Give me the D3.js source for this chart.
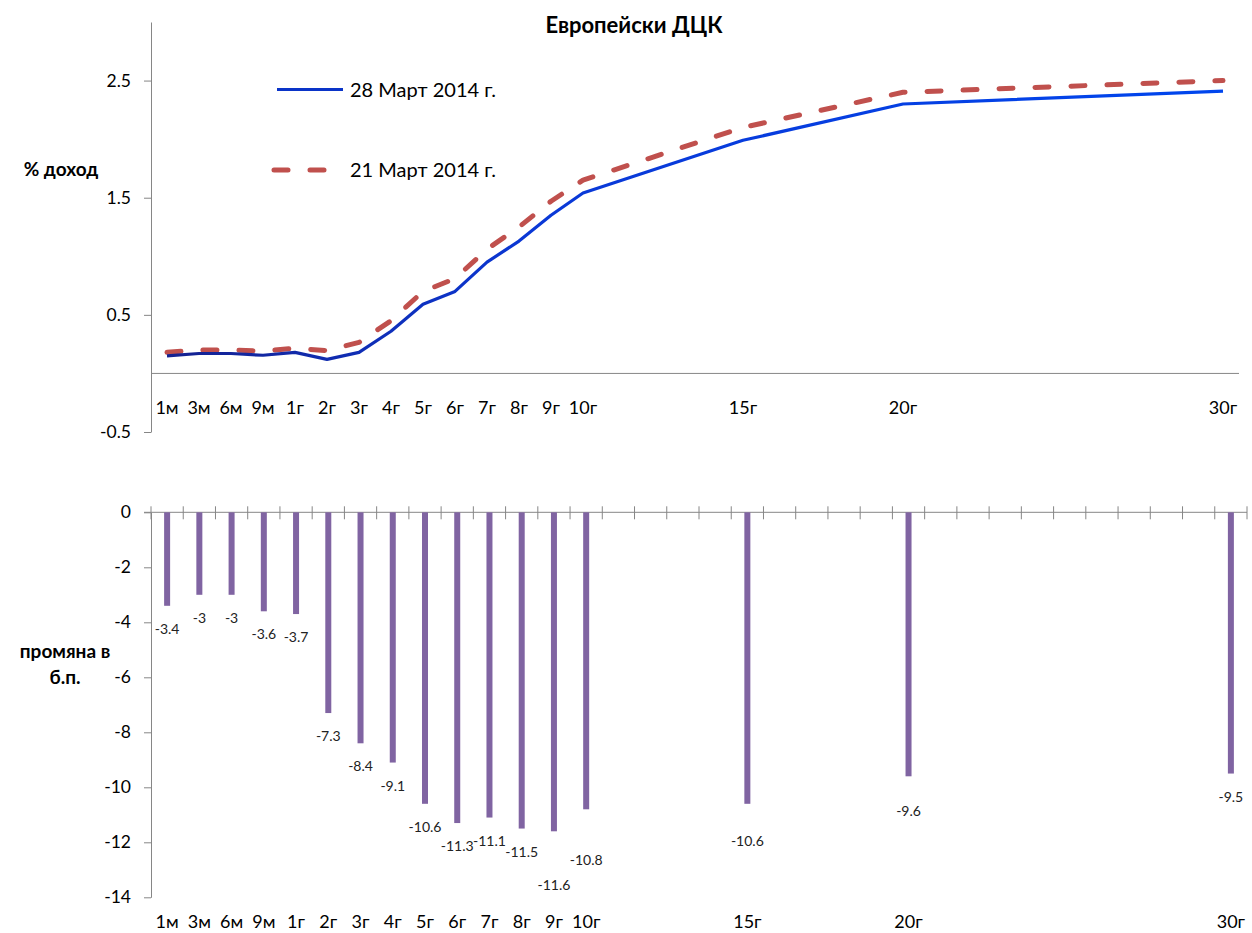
<!DOCTYPE html>
<html>
<head>
<meta charset="utf-8">
<script src="https://cdn.jsdelivr.net/npm/d3@7"></script>
<style>
  html, body { margin: 0; padding: 0; background: #fff; }
  svg { display: block; font-family: Lato, "Open Sans", sans-serif; }
</style>
</head>
<body>
<svg id="chart" width="1252" height="933"></svg>
<script>
// ---------- DATA ----------
const axisCategories = ["1м","3м","6м","9м","1г","2г","3г","4г","5г","6г","7г","8г","9г","10г",
  "11г","12г","13г","14г","15г","16г","17г","18г","19г","20г",
  "21г","22г","23г","24г","25г","26г","27г","28г","29г","30г"];
const tenors = ["1м","3м","6м","9м","1г","2г","3г","4г","5г","6г","7г","8г","9г","10г","15г","20г","30г"];
const yield28Mar = [0.15,0.17,0.17,0.155,0.18,0.12,0.18,0.36,0.59,0.70,0.95,1.13,1.35,1.54,1.99,2.30,2.41];
const yield21Mar = [0.18,0.20,0.20,0.19,0.215,0.195,0.265,0.45,0.70,0.81,1.06,1.25,1.47,1.65,2.10,2.40,2.50];
const changeBp   = [-3.4,-3,-3,-3.6,-3.7,-7.3,-8.4,-9.1,-10.6,-11.3,-11.1,-11.5,-11.6,-10.8,-10.6,-9.6,-9.5];
const topTicks = [-0.5, 0.5, 1.5, 2.5];
const bottomTicks = [0, -2, -4, -6, -8, -10, -12, -14];
const seriesNames = ["28 Март 2014 г.", "21 Март 2014 г."];
const title = "Европейски ДЦК";

// ---------- SETUP ----------
const svg = d3.select("#chart");
const axisColor = "#868686";
const blueColor = "#0a34c8";
const redColor = "#c0504d";
const barColor = "#8064a2";

const defs = svg.append("defs");
const grad = defs.append("linearGradient").attr("id", "blueGrad")
  .attr("gradientUnits", "userSpaceOnUse").attr("x1", 160).attr("x2", 1230).attr("y1", 0).attr("y2", 0);
grad.append("stop").attr("offset", "0").attr("stop-color", "#15218f");
grad.append("stop").attr("offset", "0.35").attr("stop-color", "#0a38d6");
grad.append("stop").attr("offset", "1").attr("stop-color", "#0046ee");

// ---------- TOP CHART ----------
const xT = d3.scaleBand().domain(axisCategories).range([151, 1239]);
const yT = d3.scaleLinear().domain([-0.5, 3.0]).range([432, 22]);

const topY = svg.append("g").attr("transform", "translate(151,0)")
  .call(d3.axisLeft(yT).tickValues(topTicks).tickSize(7).tickSizeOuter(0).tickPadding(13)
    .tickFormat(d3.format(".1f")));
topY.select(".domain").attr("stroke", axisColor);
topY.selectAll(".tick line").attr("stroke", axisColor);
topY.selectAll(".tick text").attr("font-size", 17.5).attr("fill", "#000")
  .attr("font-family", "Lato, sans-serif").text(d => d < 0 ? "-" + Math.abs(d).toFixed(1) : d.toFixed(1));

// zero line
svg.append("line").attr("x1", 151).attr("x2", xT.range()[1])
  .attr("y1", yT(0)).attr("y2", yT(0)).attr("stroke", axisColor).attr("stroke-width", 1);

// top x labels
svg.append("g").selectAll("text").data(tenors).join("text")
  .attr("x", d => xT(d) + xT.bandwidth() / 2)
  .attr("y", 414)
  .attr("text-anchor", "middle").attr("font-size", 18).attr("fill", "#000")
  .text(d => d);

const topData = tenors.map((t, i) => ({ t, a: yield28Mar[i], b: yield21Mar[i] }));
const lineA = d3.line().x(d => xT(d.t) + xT.bandwidth() / 2).y(d => yT(d.a));
const lineB = d3.line().x(d => xT(d.t) + xT.bandwidth() / 2).y(d => yT(d.b));

svg.append("path").datum(topData).attr("d", lineB)
  .attr("fill", "none").attr("stroke", redColor).attr("stroke-width", 5)
  .attr("stroke-dasharray", "14,22").attr("stroke-linecap", "round").attr("stroke-linejoin", "round");
svg.append("path").datum(topData).attr("d", lineA)
  .attr("fill", "none").attr("stroke", "url(#blueGrad)").attr("stroke-width", 3.2)
  .attr("stroke-linejoin", "round");

// legend
svg.append("line").attr("x1", 277).attr("x2", 343).attr("y1", 89.5).attr("y2", 89.5)
  .attr("stroke", blueColor).attr("stroke-width", 3.2);
svg.append("line").attr("x1", 274).attr("x2", 330).attr("y1", 170).attr("y2", 170)
  .attr("stroke", redColor).attr("stroke-width", 5).attr("stroke-dasharray", "14,22").attr("stroke-linecap", "round");
svg.append("text").attr("x", 350).attr("y", 96.5).attr("font-size", 20).attr("fill", "#000").text(seriesNames[0]);
svg.append("text").attr("x", 350).attr("y", 177).attr("font-size", 20).attr("fill", "#000").text(seriesNames[1]);

// title
svg.append("text").attr("x", 634).attr("y", 33).attr("text-anchor", "middle")
  .attr("font-size", 22).attr("font-weight", "bold").attr("fill", "#000").text(title);

// axis title top
svg.append("text").attr("x", 61).attr("y", 176).attr("text-anchor", "middle")
  .attr("font-size", 19).attr("font-weight", "bold").attr("fill", "#000").text("% доход");

// ---------- BOTTOM CHART ----------
const xB = d3.scaleBand().domain(axisCategories).range([151, 1247]);
const yB = d3.scaleLinear().domain([-14, 0]).range([897.3, 512.3]);

const botY = svg.append("g").attr("transform", "translate(151,0)")
  .call(d3.axisLeft(yB).tickValues(bottomTicks).tickSize(7).tickSizeOuter(0).tickPadding(13)
    .tickFormat(d => d < 0 ? "-" + Math.abs(d) : String(d)));
botY.select(".domain").attr("stroke", axisColor);
botY.selectAll(".tick line").attr("stroke", axisColor);
botY.selectAll(".tick text").attr("font-size", 17.5).attr("fill", "#000").attr("font-family", "Lato, sans-serif");

// x axis line at 0 with crossing ticks at category boundaries
const y0 = yB(0);
svg.append("line").attr("x1", 144).attr("x2", xB.range()[1]).attr("y1", y0).attr("y2", y0)
  .attr("stroke", axisColor);
const boundaries = axisCategories.map(c => xB(c)).concat([xB.range()[1]]);
svg.append("g").selectAll("line").data(boundaries).join("line")
  .attr("x1", d => d).attr("x2", d => d).attr("y1", y0 - 6).attr("y2", y0 + 7)
  .attr("stroke", axisColor);

// bars
const barW = 6;
const barData = tenors.map((t, i) => ({ t, v: changeBp[i] }));
svg.append("g").selectAll("rect").data(barData).join("rect")
  .attr("x", d => xB(d.t) + xB.bandwidth() / 2 - barW / 2)
  .attr("y", y0)
  .attr("width", barW)
  .attr("height", d => yB(d.v) - y0)
  .attr("fill", barColor);

// data labels (with small manual nudges to avoid overlap, as in the original)
const nudge = { "9г": 31, "10г": 28, "15г": 14, "20г": 12 };
svg.append("g").selectAll("text").data(barData).join("text")
  .attr("x", d => xB(d.t) + xB.bandwidth() / 2)
  .attr("y", d => yB(d.v) + 28 + (nudge[d.t] || 0))
  .attr("text-anchor", "middle").attr("font-size", 14).attr("fill", "#222")
  .text(d => d.v < 0 ? "-" + Math.abs(d.v) : String(d.v));

// bottom x labels
svg.append("g").selectAll("text").data(tenors).join("text")
  .attr("x", d => xB(d) + xB.bandwidth() / 2)
  .attr("y", 928)
  .attr("text-anchor", "middle").attr("font-size", 18).attr("fill", "#000")
  .text(d => d);

// axis title bottom
const at = svg.append("text").attr("text-anchor", "middle")
  .attr("font-size", 19).attr("font-weight", "bold").attr("fill", "#000");
at.append("tspan").attr("x", 65).attr("y", 658).text("промяна в");
at.append("tspan").attr("x", 65).attr("y", 684).text("б.п.");
</script>
</body>
</html>
